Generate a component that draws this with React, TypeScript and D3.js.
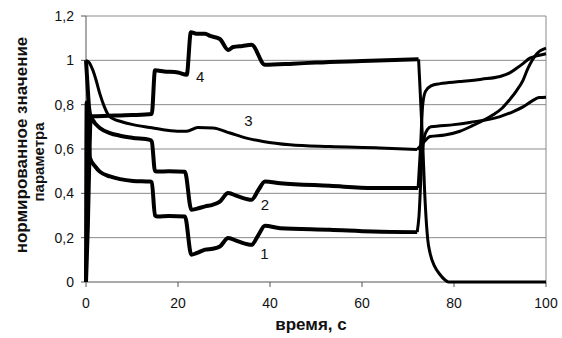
import * as d3 from "d3";

const WIDTH = 562;
const HEIGHT = 338;
const MARGIN = { top: 16, right: 16, bottom: 56, left: 86 };
const FONT = "'Liberation Sans', Arial, sans-serif";

type Pt = [number, number];

// time, c ; normalised parameter value
const curve1: Pt[] = [
  [0, 0], [0.15, 0.81], [0.85, 0.56], [2, 0.521], [3, 0.498], [5.2, 0.476], [7.4, 0.464],
  [10.2, 0.456], [13.9, 0.453], [14.3, 0.45], [15, 0.3], [15.6, 0.296], [18, 0.298],
  [21.5, 0.296], [22.9, 0.123], [24, 0.13], [25.9, 0.146], [27.5, 0.15], [29.1, 0.16],
  [30.9, 0.198], [33.1, 0.183], [36, 0.168], [37.5, 0.213], [38.9, 0.254], [42.2, 0.243],
  [53, 0.236], [62.4, 0.228], [72, 0.225],
];
const recovery1: Pt[] = [
  [72, 0.225], [72.4, 0.3], [73, 0.55], [73.5, 0.65], [74.3, 0.69], [75, 0.7], [80, 0.71],
  [83.4, 0.72], [90, 0.746], [93, 0.77], [95, 0.79], [97, 0.817], [98.5, 0.832], [100, 0.834],
];
const curve2: Pt[] = [
  [0, 0], [0.4, 0.25], [0.8, 0.62], [1, 0.74], [2, 0.715], [3, 0.695], [5.2, 0.672],
  [7.4, 0.66], [10.2, 0.65], [13.9, 0.641], [14.3, 0.634], [15, 0.5], [15.6, 0.498],
  [18, 0.5], [21.5, 0.497], [22.9, 0.326], [24, 0.33], [25.9, 0.341], [27.5, 0.348],
  [29.1, 0.363], [30.9, 0.401], [33.1, 0.386], [36, 0.371], [37.5, 0.416], [38.9, 0.453],
  [42.2, 0.446], [53, 0.434], [62.4, 0.424], [72.2, 0.424],
];
const recovery2: Pt[] = [
  [72.2, 0.424], [72.7, 0.6], [73.2, 0.8], [73.8, 0.86], [75, 0.885], [77, 0.895],
  [81.3, 0.904], [86, 0.915], [90, 0.927], [92, 0.942], [93.6, 0.964], [95, 0.985],
  [96.5, 1.01], [98, 1.02], [100, 1.03],
];
const curve3: Pt[] = [
  [0, 1], [0.7, 0.99], [1.5, 0.955], [2.2, 0.91], [3, 0.85], [4, 0.79], [4.8, 0.755],
  [6, 0.735], [7.4, 0.725], [10.2, 0.71], [13.9, 0.697], [17.2, 0.686], [20.4, 0.68],
  [21.9, 0.68], [24.3, 0.697], [27.6, 0.695], [31.3, 0.672], [34.9, 0.649], [38.5, 0.634],
  [44.3, 0.619], [53, 0.611], [63.9, 0.605], [72, 0.598],
];
const recovery3: Pt[] = [
  [72, 0.598], [73, 0.62], [74.8, 0.656], [78, 0.663], [81.3, 0.68], [84, 0.705],
  [88.5, 0.754], [90.5, 0.785], [92, 0.82], [93.5, 0.86], [95, 0.91], [96, 0.96],
  [97, 1], [98, 1.03], [100, 1.055],
];
const curve4: Pt[] = [
  [0, 1], [0.3, 0.9], [0.7, 0.78], [1.1, 0.748], [5, 0.75], [10, 0.753], [14.3, 0.758],
  [15, 0.955], [17, 0.95], [20, 0.945], [21.9, 0.935], [22.8, 1.127], [24, 1.12],
  [25.9, 1.12], [27, 1.11], [29.1, 1.096], [30.9, 1.047], [32, 1.06], [34, 1.065],
  [36, 1.07], [38.9, 0.98], [45, 0.985], [50, 0.99], [60, 0.997], [72.3, 1.005],
];
const drop4: Pt[] = [
  [72.3, 1.005], [72.6, 0.88], [72.9, 0.75], [73.2, 0.626], [73.6, 0.416], [74.3, 0.19],
  [74.8, 0.13], [75.8, 0.07], [76.9, 0.035], [78, 0.01], [78.8, 0], [100, 0],
];

const seriesMain = [curve1, curve2, curve4];
const seriesThin = [curve3, recovery1, recovery2, recovery3, drop4];

const curveLabels = ["1", "2", "3", "4"];
const curveLabelAt: Pt[] = [[38.8, 0.104], [38.9, 0.325], [35.3, 0.702], [24.8, 0.901]];

const xTicks = [0, 20, 40, 60, 80, 100];
const xTickLabels = ["0", "20", "40", "60", "80", "100"];
const yTicks = [0, 0.2, 0.4, 0.6, 0.8, 1, 1.2];
const yTickLabels = ["0", "0,2", "0,4", "0,6", "0,8", "1", "1,2"];

const xTitle = "время, с";
const yTitle = ["нормированное значение", "параметра"];

export default function App() {
  const x = d3.scaleLinear().domain([0, 100]).range([MARGIN.left, WIDTH - MARGIN.right]);
  const y = d3.scaleLinear().domain([0, 1.2]).range([HEIGHT - MARGIN.bottom, MARGIN.top]);
  const line = d3
    .line<Pt>()
    .x((d) => x(d[0]))
    .y((d) => y(d[1]))
    .curve(d3.curveMonotoneX);

  const x0 = x(0);
  const x1 = x(100);
  const y0 = y(0);
  const yTop = y(1.2);

  return (
    <svg
      width={WIDTH}
      height={HEIGHT}
      style={{ position: "fixed", left: 0, top: 0, background: "#fff" }}
      fontFamily={FONT}
    >
      {yTicks.slice(1).map((t) => (
        <line key={t} x1={x0} x2={x1} y1={y(t)} y2={y(t)} stroke="#8a8a8a" strokeWidth={1} />
      ))}
      <line x1={x1} x2={x1} y1={yTop} y2={y0} stroke="#8a8a8a" strokeWidth={1} />

      {/* axes */}
      <line x1={x0} x2={x0} y1={yTop} y2={y0} stroke="#555" strokeWidth={1} />
      <line x1={x0} x2={x1} y1={y0} y2={y0} stroke="#555" strokeWidth={1} />
      {yTicks.map((t, i) => (
        <g key={t}>
          <line x1={x0 - 5} x2={x0} y1={y(t)} y2={y(t)} stroke="#555" />
          <text x={x0 - 12} y={y(t)} dy="0.36em" textAnchor="end" fontSize={14} fill="#111">
            {yTickLabels[i]}
          </text>
        </g>
      ))}
      {xTicks.map((t, i) => (
        <g key={t}>
          <line x1={x(t)} x2={x(t)} y1={y0} y2={y0 + 5} stroke="#555" />
          <text x={x(t)} y={y0 + 26} textAnchor="middle" fontSize={14} fill="#111">
            {xTickLabels[i]}
          </text>
        </g>
      ))}

      {seriesThin.map((s, i) => (
        <path key={`t${i}`} d={line(s) ?? ""} fill="none" stroke="#000" strokeWidth={3} strokeLinejoin="round" />
      ))}
      {seriesMain.map((s, i) => (
        <path key={`m${i}`} d={line(s) ?? ""} fill="none" stroke="#000" strokeWidth={4} strokeLinejoin="round" />
      ))}

      {curveLabels.map((l, i) => (
        <text key={l} x={x(curveLabelAt[i][0])} y={y(curveLabelAt[i][1])} textAnchor="middle" fontSize={15} fill="#111">
          {l}
        </text>
      ))}

      <text x={311} y={330} textAnchor="middle" fontSize={17} fontWeight="bold" fill="#111">
        {xTitle}
      </text>
      <text transform="translate(27,145) rotate(-90)" textAnchor="middle" fontSize={17} fontWeight="bold" fill="#111">
        {yTitle[0]}
      </text>
      <text transform="translate(44,162) rotate(-90)" textAnchor="middle" fontSize={15} fontWeight="bold" fill="#111">
        {yTitle[1]}
      </text>
    </svg>
  );
}
